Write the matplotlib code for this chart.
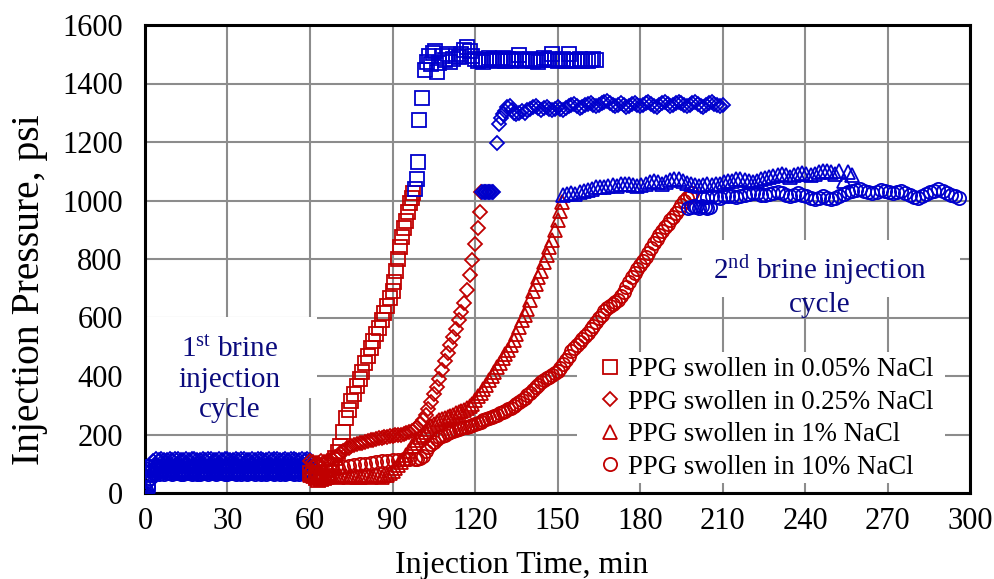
import numpy as np
import matplotlib
matplotlib.use("Agg")
import matplotlib.pyplot as plt
from matplotlib.lines import Line2D
from matplotlib.patches import Rectangle

plt.rcParams['font.family'] = ['Liberation Serif', 'DejaVu Serif']
plt.rcParams['mathtext.fontset'] = 'custom'
plt.rcParams['mathtext.rm'] = 'Liberation Serif'
plt.rcParams['mathtext.it'] = 'Liberation Serif:italic'

BLUE = '#0000CC'
RED = '#C00000'
NAVY = '#0b0b7d'

# ---------------- data ----------------
x_ticks = [0, 30, 60, 90, 120, 150, 180, 210, 240, 270, 300]
y_ticks = [0, 200, 400, 600, 800, 1000, 1200, 1400, 1600]
labels = ['PPG swollen in 0.05% NaCl', 'PPG swollen in 0.25% NaCl',
          'PPG swollen in 1% NaCl', 'PPG swollen in 10% NaCl']

# 1st brine injection cycle (t = 0..60 min, every minute)
sq_c1 = [0, 30, 65, 90, 85, 80, 78, 82, 75, 80, 84, 77, 73, 80, 83, 76, 74, 81, 84, 77,
         72, 79, 83, 76, 73, 80, 84, 77, 72, 79, 82, 76, 74, 80, 83, 77, 73, 79, 82, 76,
         74, 80, 83, 77, 72, 79, 82, 76, 73, 80, 84, 77, 73, 79, 82, 76, 74, 80, 83, 77, 75]
dm_c1 = [0, 35, 80, 110, 115, 113, 116, 112, 114, 117, 113, 115, 116, 112, 114, 117, 113, 115, 116, 112,
         114, 117, 113, 115, 116, 112, 114, 117, 113, 115, 116, 112, 114, 117, 113, 115, 116, 112, 114, 117,
         113, 115, 116, 112, 114, 117, 113, 115, 116, 112, 114, 117, 113, 115, 116, 112, 114, 117, 113, 115, 114]
tr_c1 = [0, 25, 60, 88, 96, 94, 92, 97, 94, 96, 93, 95, 98, 94, 92, 96, 95, 93, 97, 94,
         92, 96, 95, 93, 97, 94, 92, 96, 95, 93, 97, 94, 92, 96, 95, 93, 97, 94, 92, 96,
         95, 93, 97, 94, 92, 96, 95, 93, 97, 94, 92, 96, 95, 93, 97, 94, 92, 96, 95, 93, 94]
ci_c1 = [0, 20, 50, 70, 68, 66, 70, 64, 67, 69, 65, 68, 70, 66, 64, 69, 67, 65, 70, 66,
         64, 68, 70, 65, 67, 69, 64, 68, 70, 66, 65, 69, 67, 64, 70, 66, 68, 65, 69, 67,
         64, 70, 66, 68, 65, 69, 67, 64, 70, 66, 68, 65, 69, 67, 64, 70, 66, 68, 65, 69, 68]

# 2nd brine injection cycle - gel extrusion (red)
sq_t2 = [60, 61, 62, 63, 64, 65, 66, 67, 68, 69, 70, 71, 72, 73, 74, 75, 76, 77, 78, 79,
         80, 81, 82, 83, 84, 85, 86, 87, 88, 89, 90, 90.7, 91.3, 92, 92.7, 93.5, 94.3, 95,
         95.7, 96.4, 97, 97.6]
sq_p2 = [70, 60, 50, 45, 48, 52, 58, 70, 95, 120, 140, 160, 210, 255, 285, 315, 340, 365, 390, 415,
         445, 470, 495, 520, 545, 565, 590, 615, 640, 665, 690, 720, 760, 800, 840, 875, 905, 930,
         960, 990, 1010, 1025]

dm_t2 = [60, 61, 62, 63, 64, 65, 66, 67, 68, 69, 70, 71, 72, 73, 74, 75, 76, 77, 78, 79,
         80, 81, 82, 83, 84, 85, 86, 87, 88, 89, 90, 91, 92, 93, 94, 95, 96, 97, 98, 99,
         100, 101, 102, 103, 104, 105, 106, 107, 108, 109, 110, 111, 112, 113, 114, 115, 116, 117, 118, 119,
         120, 121, 121.7, 122.2]
dm_p2 = [110, 106, 102, 104, 108, 106, 110, 113, 117, 122, 128, 137, 145, 150, 155, 160, 163, 166, 170, 172,
         175, 178, 180, 182, 185, 187, 189, 190, 192, 194, 195, 197, 199, 200, 202, 205, 208, 212, 218, 225,
         235, 250, 268, 288, 312, 338, 362, 390, 420, 450, 480, 505, 535, 560, 590, 620, 650, 695, 745, 795,
         850, 905, 960, 1030]

tr_t2 = [60, 61, 62, 63, 64, 65, 66, 67, 68, 69, 70, 71, 72, 73, 74, 75, 76, 77, 78, 79,
         80, 81, 82, 83, 84, 85, 86, 87, 88, 89, 90, 91, 92, 93, 94, 95, 96, 97, 98, 99,
         100, 101, 102, 103, 104, 105, 106, 107, 108, 109, 110, 111, 112, 113, 114, 115, 116, 117, 118, 119,
         120, 121, 122, 123, 124, 125, 126, 127, 128, 129, 130, 131, 132, 133, 134, 135, 136, 137, 138, 139,
         140, 141, 142, 143, 144, 145, 146, 147, 148, 149, 150, 151, 151.7]
tr_p2 = [62, 58, 55, 57, 60, 56, 54, 58, 61, 57, 55, 59, 62, 58, 55, 57, 60, 56, 54, 58,
         61, 57, 55, 59, 62, 58, 56, 60, 63, 68, 75, 85, 95, 105, 117, 130, 145, 160, 170, 180,
         190, 200, 210, 220, 228, 235, 242, 248, 252, 256, 260, 264, 268, 272, 276, 280, 285, 290, 296, 305,
         318, 330, 342, 355, 370, 385, 400, 415, 431, 445, 460, 475, 490, 505, 523, 545, 568, 590, 610, 630,
         660, 690, 715, 737, 760, 790, 815, 840, 865, 900, 935, 965, 995]

ci_t2a = [60, 62, 64, 66, 68, 70, 72, 74, 76, 78, 80, 82, 84, 86, 88, 90, 92, 94, 96, 98]
ci_p2a = [70, 68, 72, 75, 80, 85, 88, 92, 95, 98, 100, 103, 105, 108, 110, 112, 114, 115, 115, 116]
ci_t2b_start = 99   # one reading per minute, 99..199 min
ci_p2b = [117, 118, 128, 142, 156, 168, 176, 184, 190, 196,
          200, 204, 208, 212, 215, 218, 221, 224, 227, 230,
          233, 236, 240, 244, 248, 252, 256, 260, 264, 268,
          272, 277, 282, 287, 292, 298, 304, 311, 318, 326,
          334, 343, 352, 361, 370, 378, 385, 392, 398, 404,
          410, 418, 428, 440, 455, 470, 485, 497, 507, 517,
          527, 537, 548, 560, 572, 585, 598, 610, 622, 632,
          640, 646, 652, 660, 672, 688, 705, 722, 738, 752,
          765, 778, 792, 806, 822, 838, 853, 868, 882, 896,
          908, 920, 932, 945, 958, 972, 986, 998, 1008, 1016,
          1024]

# 2nd cycle - after plateau (blue)
sq_t3a = [98.2, 98.8, 99.3, 99.8, 100.8, 101.8, 102.5, 103.2, 104, 104.8, 105.5, 106.2, 107, 108, 109,
          110, 111, 112, 113, 114, 115, 116, 117, 118, 119]
sq_p3a = [1040, 1075, 1130, 1275, 1350, 1445, 1475, 1495, 1465, 1505, 1510, 1440, 1470, 1495, 1480,
          1500, 1475, 1485, 1495, 1490, 1500, 1515, 1525, 1510, 1495]
sq_t3b_start = 120  # every minute, 120..164
sq_p3b = [1485, 1478, 1482, 1475, 1480, 1486, 1479, 1483, 1476, 1481,
          1488, 1478, 1483, 1477, 1480, 1485, 1498, 1482, 1476, 1480,
          1484, 1478, 1482, 1475, 1480, 1486, 1479, 1483, 1500, 1481,
          1477, 1480, 1484, 1478, 1500, 1482, 1476, 1480, 1485, 1478,
          1482, 1476, 1480, 1483, 1479]

dm_t3a = [122.6, 123.1, 123.6, 124.1, 124.6, 125.1, 125.6, 126.1, 126.6, 128, 128.7, 129.5, 130.3,
          131, 131.8, 132.6, 133.4, 134.2, 135, 136, 137, 138, 139]
dm_p3a = [1030, 1030, 1030, 1030, 1030, 1030, 1030, 1030, 1030, 1197, 1262, 1282, 1295,
          1305, 1318, 1322, 1310, 1300, 1296, 1298, 1305, 1300, 1308]
dm_t3b_start = 140  # every minute, 140..210
dm_p3b = [1312, 1318, 1322, 1315, 1310, 1316, 1320, 1312, 1308, 1314,
          1318, 1312, 1310, 1316, 1322, 1326, 1330, 1322, 1316, 1320,
          1326, 1330, 1334, 1328, 1322, 1326, 1332, 1336, 1340, 1332,
          1326, 1322, 1328, 1332, 1326, 1320, 1324, 1330, 1334, 1328,
          1322, 1326, 1332, 1336, 1330, 1324, 1320, 1326, 1332, 1336,
          1330, 1324, 1328, 1334, 1338, 1332, 1326, 1322, 1328, 1332,
          1336, 1330, 1324, 1320, 1326, 1332, 1336, 1330, 1326, 1322,
          1328]

tr_t3_start = 152   # every 1.5 min, 152..257
tr_p3 = [1020, 1022, 1025, 1022, 1028, 1032, 1035, 1040, 1045, 1045,
         1045, 1048, 1052, 1050, 1055, 1058, 1056, 1052, 1050, 1054,
         1058, 1062, 1066, 1062, 1058, 1064, 1070, 1074, 1072, 1066,
         1060, 1055, 1052, 1050, 1054, 1056, 1052, 1055, 1058, 1062,
         1065, 1068, 1072, 1074, 1070, 1066, 1064, 1068, 1072, 1076,
         1080, 1084, 1088, 1090, 1086, 1082, 1086, 1090, 1094, 1090,
         1086, 1090, 1096, 1100, 1102, 1098, 1092, 1100, 1068, 1096,
         1088]

ci_t3a = [197.5, 198.5, 199.5, 200.5, 201.5, 202.5, 203.5, 204.5, 205.5]
ci_p3a = [975, 978, 980, 978, 976, 980, 978, 976, 979]
ci_t3b_start = 203  # every 1.5 min, 203..296
ci_p3b = [1008, 1012, 1015, 1012, 1010, 1014, 1016, 1014, 1012, 1015,
          1018, 1022, 1026, 1024, 1020, 1018, 1022, 1026, 1028, 1024,
          1020, 1016, 1020, 1024, 1018, 1014, 1010, 1006, 1010, 1014,
          1008, 1004, 1010, 1016, 1022, 1028, 1032, 1036, 1038, 1034,
          1030, 1026, 1030, 1036, 1032, 1028, 1024, 1030, 1034, 1026,
          1018, 1012, 1008, 1014, 1022, 1028, 1034, 1038, 1032, 1026,
          1020, 1014, 1008]

# ---------------- figure ----------------
fig = plt.figure(figsize=(9.95, 5.79), dpi=100)
ax = fig.add_axes([145 / 995, 86 / 579, 825 / 995, 468 / 579])

mk = dict(linestyle='none', markerfacecolor='none', markeredgewidth=1.3)
sizes = {'s': 9.5, 'D': 6.8, '^': 9.5, 'o': 9.5}

def plot(t, p, m, c):
    ax.plot(t, p, marker=m, markersize=sizes[m], markeredgecolor=c, zorder=3, **mk)

# cycle 1 (blue)
for vals, m in [(sq_c1, 's'), (dm_c1, 'D'), (tr_c1, '^'), (ci_c1, 'o')]:
    plot(np.arange(len(vals)), vals, m, BLUE)

# red extrusion phase
plot(sq_t2, sq_p2, 's', RED)
plot(dm_t2, dm_p2, 'D', RED)
plot(tr_t2, tr_p2, '^', RED)
plot(ci_t2a, ci_p2a, 'o', RED)
plot(ci_t2b_start + np.arange(len(ci_p2b)), ci_p2b, 'o', RED)

# blue plateaus
plot(sq_t3a, sq_p3a, 's', BLUE)
plot(sq_t3b_start + np.arange(len(sq_p3b)), sq_p3b, 's', BLUE)
plot(dm_t3a, dm_p3a, 'D', BLUE)
plot(dm_t3b_start + np.arange(len(dm_p3b)), dm_p3b, 'D', BLUE)
plot(tr_t3_start + 1.5 * np.arange(len(tr_p3)), tr_p3, '^', BLUE)
plot(ci_t3a, ci_p3a, 'o', BLUE)
plot(ci_t3b_start + 1.5 * np.arange(len(ci_p3b)), ci_p3b, 'o', BLUE)

ax.set_xlim(0, 300)
ax.set_ylim(0, 1600)
ax.set_xticks(x_ticks)
ax.set_yticks(y_ticks)
ax.grid(True, color='#8c8c8c', linewidth=1.5)
ax.set_axisbelow(True)
for s in ax.spines.values():
    s.set_linewidth(2.2)
    s.set_color('black')
ax.tick_params(axis='both', direction='in', length=4, width=1.2, color='#8c8c8c',
               labelsize=22, labelcolor='black')
ax.tick_params(axis='y', pad=16)
ax.tick_params(axis='x', pad=10)

ax.set_xlabel('Injection Time, min', fontsize=23)
ax.set_ylabel('Injection Pressure, psi', fontsize=28.5)
ax.xaxis.set_label_coords(0.456, -0.125)
ax.yaxis.set_label_coords(-0.118, 0.435)

# annotation boxes
ax.add_patch(Rectangle((0.0, 0.203), 0.2085, 0.173, transform=ax.transAxes,
                       facecolor='white', edgecolor='none', zorder=1))
ax.add_patch(Rectangle((0.651, 0.419), 0.337, 0.122, transform=ax.transAxes,
                       facecolor='white', edgecolor='none', zorder=1))
ax.text(0.103, 0.2415, '1$^{\\mathrm{st}}$ brine\ninjection\ncycle', transform=ax.transAxes,
        ha='center', va='center', fontsize=21, color=NAVY, linespacing=1.22, zorder=4)
ax.text(0.818, 0.443, '2$^{\\mathrm{nd}}$ brine injection\ncycle', transform=ax.transAxes,
        ha='center', va='center', fontsize=21, color=NAVY, linespacing=1.22, zorder=4)

# legend (white panel behind it)
ax.add_patch(Rectangle(((577 - 145) / 825, (493 - 483) / 468), (945 - 577) / 825, (483 - 352) / 468,
                       transform=ax.transAxes, facecolor='white', edgecolor='none', zorder=1))
handles = [Line2D([], [], marker=m, markersize=sizes[m], markeredgecolor=RED, **mk)
           for m in ['s', 'D', '^', 'o']]
leg = ax.legend(handles, labels, loc='upper left', bbox_to_anchor=(601 / 995, 1 - 357 / 579),
                bbox_transform=fig.transFigure, fontsize=19.3, frameon=False,
                borderpad=0, handlelength=0.7, handletextpad=0.3, labelspacing=0.28,
                borderaxespad=0)
leg.set_zorder(5)

fig.savefig('out.png', dpi=100)
